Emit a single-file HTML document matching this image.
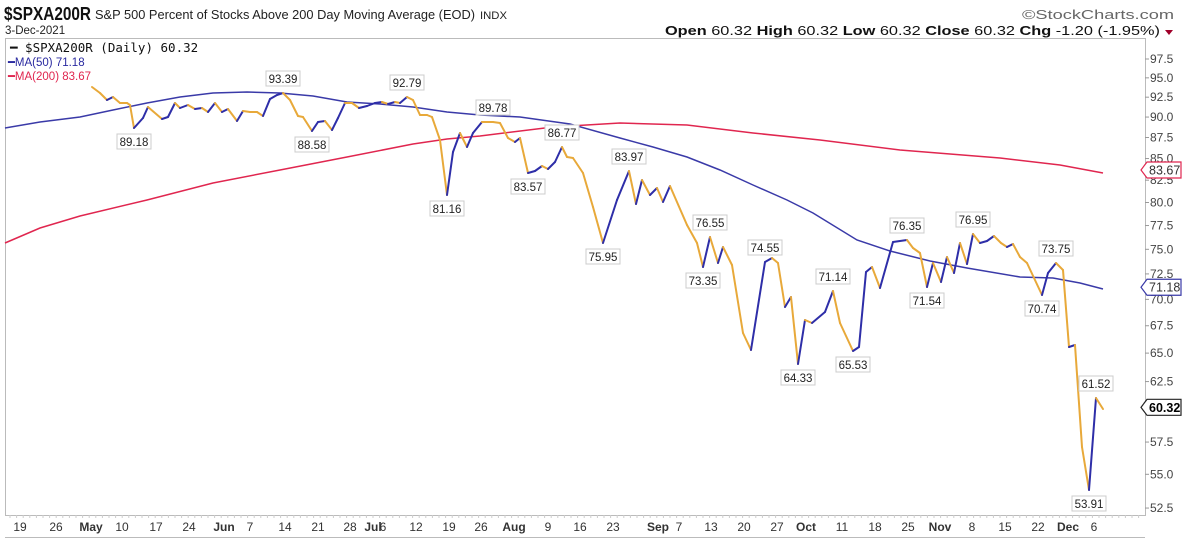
<!DOCTYPE html>
<html><head><meta charset="utf-8"><style>
html,body{margin:0;padding:0;background:#fff;}
svg{display:block;font-family:"Liberation Sans",sans-serif;}
</style></head><body>
<svg id="s" width="1190" height="546" xmlns="http://www.w3.org/2000/svg">
<rect width="1190" height="546" fill="#fff"/>
<text x="4" y="20" font-size="18" font-weight="bold" fill="#111" textLength="87" lengthAdjust="spacingAndGlyphs">$SPXA200R</text>
<text x="95" y="19" font-size="12.5" fill="#222" textLength="380" lengthAdjust="spacingAndGlyphs">S&amp;P 500 Percent of Stocks Above 200 Day Moving Average (EOD)</text>
<text x="480" y="19" font-size="11" fill="#222" textLength="27" lengthAdjust="spacingAndGlyphs">INDX</text>
<text x="5" y="34" font-size="11.5" fill="#222">3-Dec-2021</text>
<text x="1022" y="19" font-size="13" fill="#666" textLength="152" lengthAdjust="spacingAndGlyphs">©StockCharts.com</text>
<text x="665" y="35" font-size="13" fill="#111" font-weight="bold" textLength="495" lengthAdjust="spacingAndGlyphs">Open <tspan font-weight="normal">60.32 </tspan> High <tspan font-weight="normal">60.32 </tspan> Low <tspan font-weight="normal">60.32 </tspan> Close <tspan font-weight="normal">60.32 </tspan> Chg <tspan font-weight="normal">-1.20 (-1.95%)</tspan></text>
<path d="M1165 30 l8 0 l-4 5z" fill="#a0002a"/>
<rect x="5.5" y="38.5" width="1140" height="477" fill="none" stroke="#bbb"/>
<line x1="5" y1="537.5" x2="1145" y2="537.5" stroke="#bbb"/>
<g id="g"></g>
<text x="10" y="52" font-size="12.5" fill="#111" font-family="DejaVu Sans Mono,monospace">━ $SPXA200R (Daily) 60.32</text>
<text x="8" y="66" font-size="11.5" fill="#2a2aa0">━MA(50) 71.18</text>
<text x="8" y="80" font-size="11.5" fill="#e0264f">━MA(200) 83.67</text>
</svg>
<script>
const NS="http://www.w3.org/2000/svg",g=document.getElementById('g');
function el(t,a,txt){const e=document.createElementNS(NS,t);for(const k in a)e.setAttribute(k,a[k]);if(txt!=null)e.textContent=txt;g.appendChild(e);return e;}
function Y(v){return 59+Math.log(97.5/v)*725.4;}
const ticks=[97.5,95,92.5,90,87.5,85,82.5,80,77.5,75,72.5,70,67.5,65,62.5,57.5,55,52.5];
ticks.forEach(v=>{const y=Y(v);el('line',{x1:1145,y1:y,x2:1149,y2:y,stroke:'#999'});el('text',{x:1150,y:y+4,'font-size':12,fill:'#444'},v.toFixed(1));});
const xl=[[20,'19'],[56,'26'],[91,'May',1],[122,'10'],[156,'17'],[189,'24'],[224,'Jun',1],[250,'7'],[285,'14'],[318,'21'],[350,'28'],[373,'Jul',1],[383,'6'],[416,'12'],[449,'19'],[481,'26'],[514,'Aug',1],[548,'9'],[580,'16'],[613,'23'],[658,'Sep',1],[679,'7'],[711,'13'],[744,'20'],[777,'27'],[806,'Oct',1],[842,'11'],[875,'18'],[908,'25'],[940,'Nov',1],[972,'8'],[1005,'15'],[1038,'22'],[1068,'Dec',1],[1094,'6']];
xl.forEach(a=>el('text',{x:a[0],y:531,'font-size':12,fill:'#333','text-anchor':'middle','font-weight':a[2]?'bold':'normal'},a[1]));
for(let x=10;x<1145;x+=6.6){el('line',{x1:x,y1:515,x2:x,y2:518,stroke:'#ccc'});}
el('polyline',{points:"5,243 40,228 80,216 147,200 213,183 280,170 347,157 413,144 447,139 480,136 553,127 620,123 687,125 753,133 820,140 900,150 1000,158 1060,165 1103,173",fill:'none',stroke:'#e0264f','stroke-width':1.5});
el('polyline',{points:"5,128 40,122 80,117 113,110 147,103 180,97 213,93 247,92 280,93 313,96 347,102 380,104 413,107 447,112 480,115 520,117 570,124 620,138 653,147 687,157 720,170 753,185 787,200 813,213 857,240 890,251 930,261 967,268 1020,277 1053,278 1080,283 1103,289",fill:'none',stroke:'#3a3aa8','stroke-width':1.5});
const P=[[92,87],[100,93],[107,100],[113,97],[120,103],[127,103],[130,105],[134,128],[143,118],[148,107],[162,119],[168,117],[175,103],[180,108],[188,105],[195,109],[202,108],[208,112],[215,103],[222,112],[228,109],[237,121],[243,111],[250,112],[257,112],[263,116],[270,99],[277,95],[283,93],[290,100],[298,116],[303,117],[312,131],[318,122],[325,121],[332,130],[338,118],[345,103],[352,103],[359,108],[367,106],[375,103],[382,102],[388,104],[395,102],[400,103],[407,97],[413,100],[420,115],[427,115],[432,117],[440,140],[447,195],[453,152],[460,133],[467,147],[473,133],[482,122],[493,122],[500,123],[508,138],[515,142],[520,138],[528,173],[535,171],[542,166],[548,169],[555,162],[562,147],[567,157],[573,158],[583,173],[593,207],[603,243],[617,200],[629,171],[636,204],[642,180],[650,195],[657,188],[663,202],[670,186],[687,225],[697,243],[703,267],[710,237],[718,263],[723,247],[732,265],[743,333],[751,350],[765,262],[772,258],[778,263],[785,307],[791,297],[798,364],[805,320],[812,323],[825,312],[833,291],[840,323],[853,351],[859,347],[866,272],[872,267],[880,288],[893,242],[907,240],[913,248],[920,253],[927,287],[933,263],[941,282],[947,257],[954,273],[960,243],[967,264],[973,234],[980,243],[987,241],[994,236],[1001,243],[1007,247],[1013,244],[1020,257],[1027,263],[1042,295],[1048,273],[1056,263],[1063,270],[1069,347],[1075,345],[1082,447],[1089,490],[1096,398],[1103,409]];
for(let i=1;i<P.length;i++){const a=P[i-1],b=P[i];el('line',{x1:a[0],y1:a[1],x2:b[0],y2:b[1],stroke:b[1]<a[1]?'#2e2ea8':'#e8a93a','stroke-width':2,'stroke-linecap':'round'});}
const L=[[134,128,'89.18',0],[283,93,'93.39',1],[312,131,'88.58',0],[407,97,'92.79',1],[447,195,'81.16',0],[493,122,'89.78',1],[528,173,'83.57',0],[562,147,'86.77',1],[603,243,'75.95',0],[629,171,'83.97',1],[703,267,'73.35',0],[710,237,'76.55',1],[765,262,'74.55',1],[798,364,'64.33',0],[833,291,'71.14',1],[853,351,'65.53',0],[907,240,'76.35',1],[927,287,'71.54',0],[973,234,'76.95',1],[1042,295,'70.74',0],[1056,263,'73.75',1],[1089,490,'53.91',0],[1096,398,'61.52',1]];
L.forEach(l=>{const [x,y,t,up]=l;const by=up?y-22:y+6;
el('rect',{x:x-17,y:by,width:34,height:15,fill:'#fff',stroke:'#ccc'});
el('text',{x:x,y:by+12,'font-size':11.5,fill:'#222','text-anchor':'middle'},t);});
function tag(v,c,bold){const y=Y(v);el('path',{d:`M1141 ${y} l6 -8 h34 v16 h-34z`,fill:'#fff',stroke:c,'stroke-width':1.2});el('text',{x:1149,y:y+4.5,'font-size':12.5,fill:bold?'#000':'#333','font-weight':bold?'bold':'normal'},v.toFixed(2));}
tag(83.67,'#e0264f');tag(71.18,'#3a3aa8');tag(60.32,'#222',1);
</script>
</body></html>
